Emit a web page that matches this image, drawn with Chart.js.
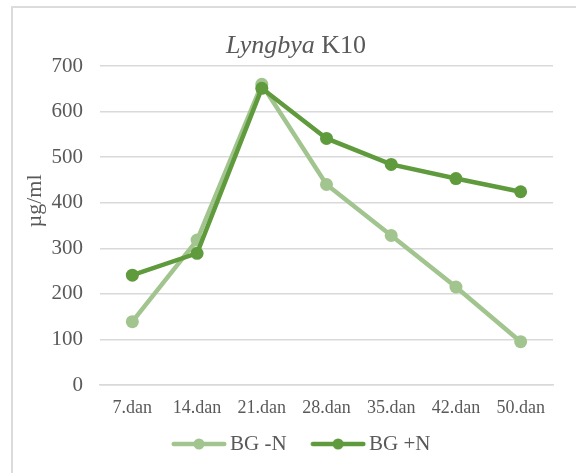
<!DOCTYPE html>
<html><head><meta charset="utf-8">
<script src="https://cdn.jsdelivr.net/npm/chart.js@4/dist/chart.umd.min.js"></script>
<style>
html,body{margin:0;padding:0;background:#fff;}
#wrap{position:relative;width:576px;height:473px;overflow:hidden;background:#fff;}
#frame{position:absolute;left:11px;top:6px;width:800px;height:800px;border-left:2px solid #dcdcdc;border-top:2px solid #dcdcdc;}
canvas{position:absolute;left:0;top:0;}
</style></head><body>
<div id="wrap"><div id="frame"></div><canvas id="c" width="576" height="473"></canvas></div>
<script>
const categories = ['7.dan','14.dan','21.dan','28.dan','35.dan','42.dan','50.dan'];
const bgMinusN = [139, 318, 660, 440, 328, 215, 95];
const bgPlusN = [241, 289, 651, 541, 484, 453, 424];
const seriesLabels = ['BG -N', 'BG +N'];
const yTicks = [0, 100, 200, 300, 400, 500, 600, 700];

const LIGHT = '#a2c58f';
const DARK = '#5f9b3d';
const TXT = '#595959';
const FONT = "'Liberation Serif', 'Times New Roman', serif";

function legendIcon(color) {
  const c = document.createElement('canvas');
  c.width = 84; c.height = 14;
  const g = c.getContext('2d');
  g.strokeStyle = color; g.lineWidth = 4.5; g.lineCap = 'round';
  g.beginPath(); g.moveTo(29.75, 7); g.lineTo(80.25, 7); g.stroke();
  g.fillStyle = color; g.beginPath(); g.arc(55, 7, 5.5, 0, Math.PI * 2); g.fill();
  return c;
}

const textPlugin = {
  id: 'mixedTitle',
  afterDraw(chart) {
    const ctx = chart.ctx;
    ctx.save();
    ctx.fillStyle = TXT;
    ctx.textBaseline = 'alphabetic';
    const f1 = "italic 26px " + FONT, f2 = "26px " + FONT;
    ctx.font = f1; const w1 = ctx.measureText('Lyngbya').width;
    ctx.font = f2; const w2 = ctx.measureText(' K10').width;
    const x0 = 296 - (w1 + w2) / 2;
    ctx.font = f1; ctx.fillText('Lyngbya', x0, 53);
    ctx.font = f2; ctx.fillText(' K10', x0 + w1, 53);
    // y axis title
    ctx.translate(35, 201);
    ctx.rotate(-Math.PI / 2);
    ctx.font = "22px " + FONT;
    ctx.textAlign = 'center';
    ctx.textBaseline = 'middle';
    ctx.fillText('µg/ml', 0, 0);
    ctx.restore();
  }
};
const legendShift = {
  id: 'legendShift',
  afterLayout(chart) {
    chart.legend.left += 9; chart.legend.right += 9;
  }
};

new Chart(document.getElementById('c'), {
  type: 'line',
  data: {
    labels: categories,
    datasets: [
      { label: seriesLabels[0], data: bgMinusN, borderColor: LIGHT, backgroundColor: LIGHT,
        borderWidth: 4.5, pointRadius: 6.5, pointBorderWidth: 0, pointBackgroundColor: LIGHT,
        pointStyle: 'circle', order: 1, legendIcon: legendIcon(LIGHT) },
      { label: seriesLabels[1], data: bgPlusN, borderColor: DARK, backgroundColor: DARK,
        borderWidth: 4.5, pointRadius: 6.5, pointBorderWidth: 0, pointBackgroundColor: DARK,
        pointStyle: 'circle', order: 0, legendIcon: legendIcon(DARK) }
    ]
  },
  options: {
    responsive: false,
    animation: false,
    layout: { padding: { left: 12, right: 23, top: 66, bottom: 8.5 } },
    plugins: {
      title: { display: false },
      tooltip: { enabled: false },
      legend: {
        position: 'bottom',
        align: 'center',
        labels: {
          usePointStyle: true,
          pointStyleWidth: 67,
          padding: 5,
          color: TXT,
          font: { family: FONT, size: 21 },
          sort: (a, b) => a.datasetIndex - b.datasetIndex,
          generateLabels(chart) {
            return chart.data.datasets.map((ds, i) => ({
              text: ds.label, datasetIndex: i, pointStyle: ds.legendIcon,
              fillStyle: ds.borderColor, strokeStyle: ds.borderColor, lineWidth: 0,
              fontColor: TXT, hidden: false
            }));
          }
        }
      }
    },
    scales: {
      x: {
        offset: true,
        afterFit(scale) { scale.height = 43.5; },
        grid: { display: false, drawTicks: false },
        border: { display: true, color: '#d9d9d9', width: 1.5 },
        ticks: { color: TXT, font: { family: FONT, size: 18 }, padding: 12, maxRotation: 0 }
      },
      y: {
        min: 0, max: 700,
        afterBuildTicks(scale) { scale.ticks = yTicks.map(v => ({ value: v })); },
        afterFit(scale) { scale.width = 88; },
        grid: { color: '#d9d9d9', lineWidth: 1.5, drawTicks: false },
        border: { display: false },
        ticks: { color: TXT, font: { family: FONT, size: 21 }, padding: 17 }
      }
    }
  },
  plugins: [textPlugin, legendShift]
});
</script>
</body></html>
